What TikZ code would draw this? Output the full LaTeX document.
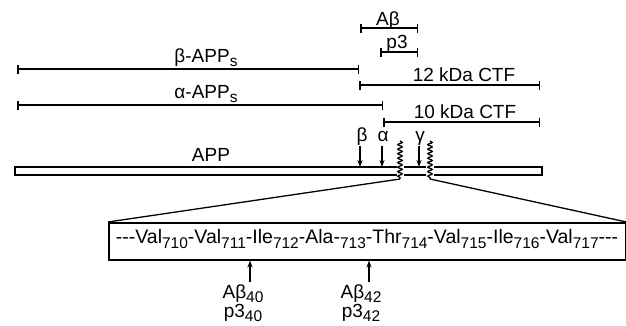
\documentclass[tikz,border=0pt]{standalone}
\usepackage{fontspec}
\setmainfont{Liberation Sans}
\usetikzlibrary{arrows.meta,decorations.pathmorphing}
\newcommand\mysub[1]{\raisebox{-0.45ex}{\fontsize{15.5}{16}\selectfont #1}}
\begin{document}
\begin{tikzpicture}[x=1pt,y=-1pt,
  span/.style={line width=1.5pt,{Bar[width=9pt,line width=1.5pt]}-{Bar[width=9pt,line width=1.5pt]}},
  lbl/.style={anchor=base,inner sep=0pt,font=\fontsize{19}{21}\selectfont},
  cut/.style={line width=1.3pt,-{Stealth[length=7pt,width=5pt]}},
  appline/.style={line width=1.4pt},
  wave/.style={line width=1.3pt,decorate,decoration={snake,segment length=4.5pt,amplitude=2.2pt}},
  seq/.style={anchor=center,inner sep=0pt,font=\fontsize{19.5}{21}\selectfont}]
\useasboundingbox (0,0) rectangle (626,325);
% spans
\coordinate (ab1) at (360,28); \coordinate (ab2) at (418,28);
\draw[span] (ab1) -- (ab2);
\node[lbl] (abl) at (388,25) {Aβ};
\coordinate (p31) at (380,52); \coordinate (p32) at (418,52);
\draw[span] (p31) -- (p32);
\node[lbl] (p3l) at (397,48) {p3};
\coordinate (bs1) at (17,69); \coordinate (bs2) at (359,69);
\draw[span] (bs1) -- (bs2);
\node[lbl] (bsl) at (206,62) {β-APP\mysub{s}};
\coordinate (c121) at (359,85); \coordinate (c122) at (540,85);
\draw[span] (c121) -- (c122);
\node[lbl] (c12l) at (464,81) {12 kDa CTF};
\coordinate (as1) at (17,105); \coordinate (as2) at (383,105);
\draw[span] (as1) -- (as2);
\node[lbl] (asl) at (206,98) {α-APP\mysub{s}};
\coordinate (c101) at (383,122); \coordinate (c102) at (540,122);
\draw[span] (c101) -- (c102);
\node[lbl] (c10l) at (465,118) {10 kDa CTF};
% APP bar
\node[lbl] (appl) at (211,161) {APP};
\draw[appline] (397,167) -- (15,167) -- (15,175) -- (397,175);
\draw[appline] (404,167) -- (426,167) (404,175) -- (426,175);
\draw[appline] (434,167) -- (542,167) -- (542,175) -- (434,175);
\coordinate (w1t) at (400,141); \coordinate (w1b) at (400,179);
\coordinate (w2t) at (430,141); \coordinate (w2b) at (430,179);
\draw[wave] (w1t) -- (w1b);
\draw[wave] (w2t) -- (w2b);
% cleavage arrows
\node[lbl] (bl) at (362,141) {β};
\node[lbl] (al) at (383,141) {α};
\node[lbl] (gl) at (420,141) {γ};
\coordinate (bt) at (360,167); \coordinate (at) at (382,167); \coordinate (gt) at (419,167);
\draw[cut] (360,146) -- (bt);
\draw[cut] (382,146) -- (at);
\draw[cut] (419,146) -- (gt);
% sequence box
\node[draw,line width=1.5pt,minimum width=517pt,minimum height=37pt,inner sep=0pt,anchor=north west] (box) at (108,222) {};
\draw[line width=1.3pt] (w1b) -- (box.north west);
\draw[line width=1.3pt] (w2b) -- (box.north east);
\node[seq] (seqt) at (367,239) {-{}-{}-Val\mysub{710}-Val\mysub{711}-Ile\mysub{712}-Ala-\mysub{713}-Thr\mysub{714}-Val\mysub{715}-Ile\mysub{716}-Val\mysub{717}-{}-{}-};
% lower arrows
\coordinate (s40) at (250,282); \coordinate (s42) at (369,282);
\draw[cut] (s40) -- (s40 |- box.south);
\draw[cut] (s42) -- (s42 |- box.south);
\node[lbl] (a40) at (243,298) {Aβ\mysub{40}};
\node[lbl] (p40) at (243,317) {p3\mysub{40}};
\node[lbl] (a42) at (361,298) {Aβ\mysub{42}};
\node[lbl] (p42) at (361,317) {p3\mysub{42}};
\end{tikzpicture}
\end{document}
